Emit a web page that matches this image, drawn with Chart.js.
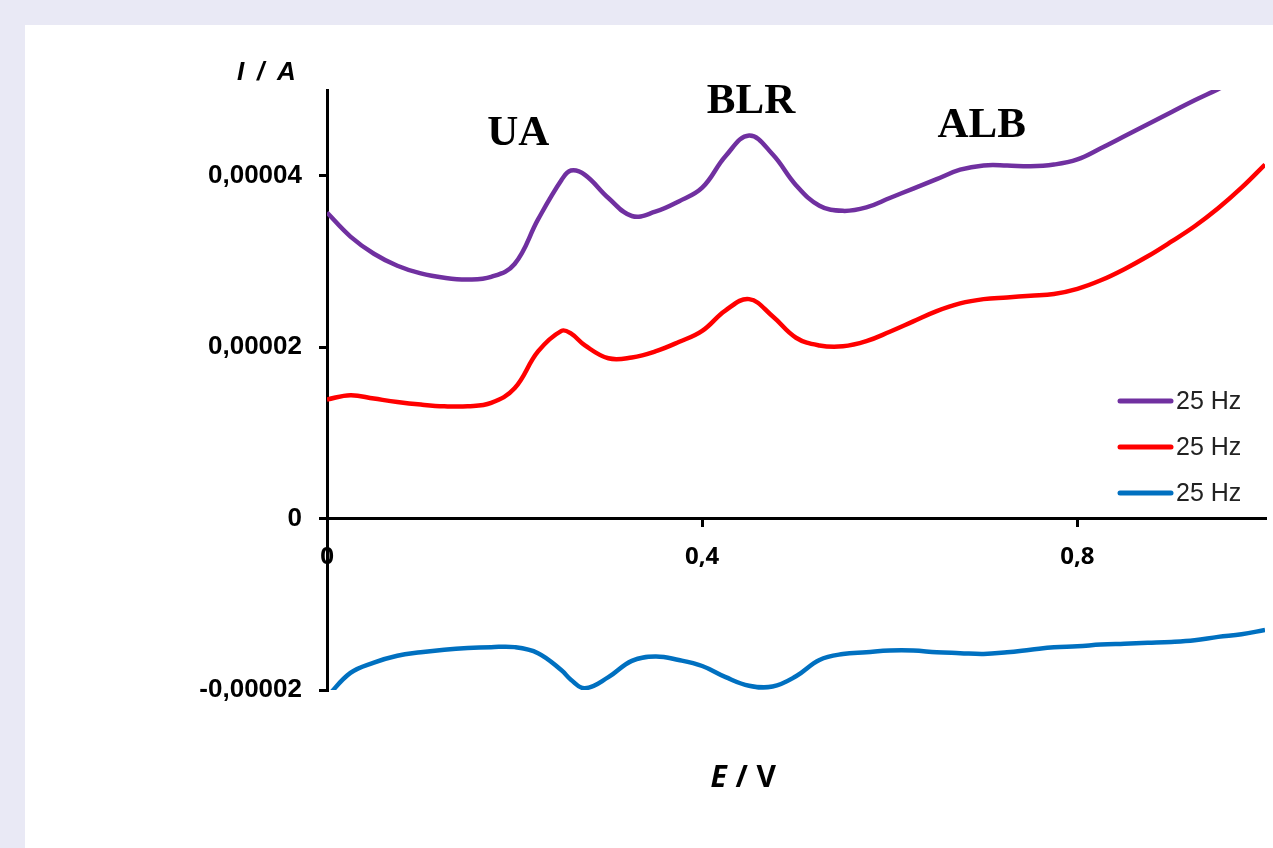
<!DOCTYPE html>
<html>
<head>
<meta charset="utf-8">
<script src="https://cdn.jsdelivr.net/npm/chart.js@4/dist/chart.umd.min.js"></script>
<style>
  html, body { margin: 0; padding: 0; background: #e9e9f5; }
  #panel { position: absolute; left: 25px; top: 25px; width: 1248px; height: 823px; background: #fff; }
</style>
</head>
<body>
<div id="panel"><canvas id="cv"></canvas></div>
<script>
// potential E / V
var potentials = [0, 0.025, 0.05, 0.075, 0.1, 0.125, 0.15, 0.175, 0.2, 0.225, 0.25, 0.26, 0.275,
  0.3, 0.325, 0.35, 0.375, 0.4, 0.425, 0.45, 0.475, 0.5, 0.525, 0.55, 0.575, 0.6, 0.625, 0.65,
  0.675, 0.7, 0.725, 0.75, 0.775, 0.8, 0.825, 0.85, 0.875, 0.9, 0.925, 0.95, 0.975, 1.0];

// current I / A
var forwardCurrent = [3.57e-5, 3.29e-5, 3.09e-5, 2.95e-5, 2.86e-5, 2.81e-5, 2.79e-5, 2.82e-5, 2.97e-5, 3.49e-5,
  3.95e-5, 4.06e-5, 4.01e-5, 3.74e-5, 3.53e-5, 3.58e-5, 3.70e-5, 3.86e-5, 4.23e-5, 4.47e-5, 4.25e-5,
  3.89e-5, 3.65e-5, 3.59e-5, 3.63e-5, 3.74e-5, 3.85e-5, 3.96e-5, 4.07e-5, 4.12e-5, 4.12e-5, 4.11e-5,
  4.13e-5, 4.19e-5, 4.32e-5, 4.46e-5, 4.60e-5, 4.74e-5, 4.88e-5, 5.01e-5, 5.15e-5, 5.30e-5];

var netCurrent = [1.39e-5, 1.44e-5, 1.40e-5, 1.36e-5, 1.33e-5, 1.31e-5, 1.31e-5, 1.35e-5, 1.52e-5, 1.95e-5,
  2.19e-5, 2.16e-5, 2.02e-5, 1.87e-5, 1.88e-5, 1.95e-5, 2.06e-5, 2.19e-5, 2.43e-5, 2.56e-5, 2.36e-5,
  2.11e-5, 2.02e-5, 2.01e-5, 2.07e-5, 2.18e-5, 2.30e-5, 2.42e-5, 2.51e-5, 2.56e-5, 2.58e-5, 2.60e-5,
  2.62e-5, 2.68e-5, 2.78e-5, 2.91e-5, 3.06e-5, 3.23e-5, 3.41e-5, 3.62e-5, 3.86e-5, 4.13e-5];

var backwardCurrent = [-2.08e-5, -1.80e-5, -1.68e-5, -1.60e-5, -1.56e-5, -1.53e-5, -1.51e-5, -1.50e-5, -1.50e-5, -1.57e-5,
  -1.77e-5, -1.88e-5, -1.98e-5, -1.85e-5, -1.66e-5, -1.61e-5, -1.65e-5, -1.72e-5, -1.85e-5, -1.95e-5, -1.96e-5,
  -1.84e-5, -1.65e-5, -1.58e-5, -1.56e-5, -1.54e-5, -1.54e-5, -1.56e-5, -1.57e-5, -1.58e-5, -1.56e-5, -1.53e-5,
  -1.50e-5, -1.49e-5, -1.47e-5, -1.46e-5, -1.45e-5, -1.44e-5, -1.42e-5, -1.38e-5, -1.35e-5, -1.30e-5];

var seriesLabels = ['25 Hz', '25 Hz', '25 Hz'];
var seriesColors = ['#7030a0', '#ff0000', '#0070c0'];
var xTicks = [0, 0.4, 0.8];
var yTicks = [-0.00002, 0, 0.00002, 0.00004];
var peakLabels = ['UA', 'BLR', 'ALB'];
var peakPotentials = [0.204, 0.452, 0.698];

function pts(ys) {
  return potentials.map(function (x, i) { return { x: x, y: ys[i] }; });
}
function comma(v) {
  if (v === 0) return '0';
  var s = String(Math.round(v * 1e6) / 1e6);
  if (Math.abs(v) < 0.001) s = v.toFixed(5);
  return s.replace('.', ',');
}

var extras = {
  id: 'extras',
  afterDraw: function (chart) {
    var ctx = chart.ctx, a = chart.chartArea;
    var xs = chart.scales.x;
    ctx.save();
    ctx.fillStyle = '#000';
    ctx.textBaseline = 'alphabetic';
    // axis titles
    ctx.font = 'italic bold 26px "Liberation Sans"';
    ctx.textAlign = 'left';
    ctx.fillText('I', a.left - 90, a.top - 10);
    ctx.fillText('/', a.left - 70, a.top - 10);
    ctx.fillText('A', a.left - 50, a.top - 10);
    var cx = xs.getPixelForValue(0.445);
    ctx.font = 'italic bold 30px "Open Sans"';
    ctx.fillText('E', cx - 34, a.bottom + 97);
    ctx.font = 'bold 30px "Open Sans"';
    ctx.fillText('/', cx - 9, a.bottom + 97);
    ctx.fillText('V', cx + 12, a.bottom + 97);
    // peak names
    ctx.font = 'bold 43px "Liberation Serif"';
    ctx.textAlign = 'center';
    var base = [a.top + 55, a.top + 23, a.top + 47];
    peakLabels.forEach(function (t, i) {
      ctx.fillText(t, xs.getPixelForValue(peakPotentials[i]), base[i]);
    });
    // legend
    ctx.font = '25px "Liberation Sans"';
    ctx.textAlign = 'left';
    ctx.textBaseline = 'middle';
    ctx.lineCap = 'round';
    chart.data.datasets.forEach(function (ds, i) {
      var y = a.top + 311 + i * 46;
      ctx.strokeStyle = ds.borderColor;
      ctx.lineWidth = 5;
      ctx.beginPath();
      ctx.moveTo(a.right - 145, y);
      ctx.lineTo(a.right - 94, y);
      ctx.stroke();
      ctx.fillStyle = '#222';
      ctx.fillText(ds.label, a.right - 89, y + 1);
    });
    ctx.restore();
  }
};

var ctx = document.getElementById('cv');
var chart = new Chart(ctx, {
  type: 'line',
  data: {
    datasets: [0, 1, 2].map(function (i) {
      return {
        label: seriesLabels[i],
        data: pts([forwardCurrent, netCurrent, backwardCurrent][i]),
        borderColor: seriesColors[i],
        borderWidth: 4.5,
        pointRadius: 0,
        tension: 0.4,
        fill: false
      };
    })
  },
  options: {
    responsive: true,
    maintainAspectRatio: false,
    animation: false,
    layout: { padding: { top: 65, right: 8, bottom: 158, left: 0 } },
    plugins: { legend: { display: false }, tooltip: { enabled: false } },
    scales: {
      x: {
        type: 'linear',
        min: 0,
        max: 1,
        position: { y: 0 },
        afterBuildTicks: function (s) { s.ticks = xTicks.map(function (v) { return { value: v }; }); },
        grid: { drawOnChartArea: false, color: '#000', lineWidth: 3, tickLength: 7 },
        border: { color: '#000', width: 3 },
        ticks: {
          color: '#000', padding: 17, maxRotation: 0,
          font: { family: '"Open Sans"', weight: 'bold', size: 24 },
          callback: function (v) { return comma(v); }
        }
      },
      y: {
        min: -0.00002,
        max: 0.00005,
        afterFit: function (s) { s.width = 302; },
        afterBuildTicks: function (s) { s.ticks = yTicks.map(function (v) { return { value: v }; }); },
        grid: { drawOnChartArea: false, color: '#000', lineWidth: 3, tickLength: 8 },
        border: { color: '#000', width: 3 },
        ticks: {
          color: '#000', padding: 17,
          font: { family: '"Liberation Sans"', weight: 'bold', size: 26 },
          callback: function (v) { return comma(v); }
        }
      }
    }
  },
  plugins: [extras]
});
</script>
</body>
</html>
